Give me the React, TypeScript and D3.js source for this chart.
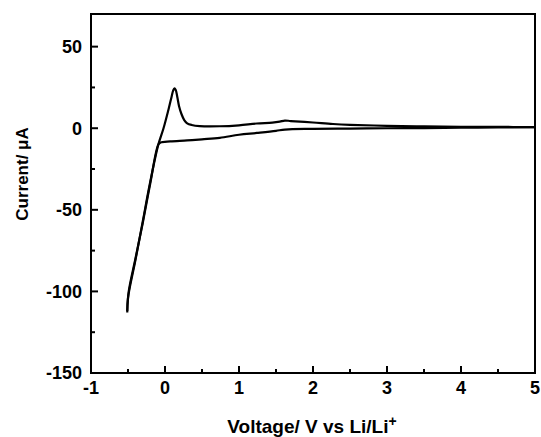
import { useEffect } from "react";
import * as d3 from "d3";

// anodic sweep: -0.5 V up to 5 V
const forwardV = [-0.51, -0.5, -0.4, -0.3, -0.2, -0.09, -0.02, 0.05, 0.09, 0.11, 0.128, 0.145, 0.165, 0.19, 0.225, 0.26, 0.3, 0.36, 0.47, 0.74, 1.0, 1.24, 1.45, 1.55, 1.62, 1.7, 2.0, 2.27, 2.5, 3.0, 3.5, 4.0, 4.5, 5.0];
const forwardI = [-113, -104, -81, -57, -33, -10, 0, 12, 19.5, 23, 24.5, 23.5, 19.5, 13.5, 8.4, 5, 3, 2, 1.3, 1.2, 1.8, 2.9, 3.4, 4.0, 4.7, 4.4, 3.5, 2.6, 2.1, 1.5, 1.1, 0.9, 0.8, 0.7];

// cathodic sweep: 5 V back down to -0.5 V
const reverseV = [5.0, 4.5, 4.0, 3.5, 3.0, 2.5, 2.0, 1.62, 1.5, 1.24, 1.0, 0.74, 0.5, 0.3, 0.07, -0.06, -0.09, -0.2, -0.3, -0.4, -0.49, -0.51];
const reverseI = [0.6, 0.5, 0.3, 0.1, 0, -0.2, -0.4, -0.8, -1.6, -2.9, -4, -5.9, -6.8, -7.5, -8.1, -8.8, -10, -34, -58, -80, -100, -112];

const xTicks = [-1, 0, 1, 2, 3, 4, 5];
const yTicks = [-150, -100, -50, 0, 50];

export default function App() {
  useEffect(() => {
    document.body.style.margin = "0";
  }, []);

  const width = 541;
  const height = 437;
  const margin = { top: 14, right: 6, bottom: 64, left: 91 };

  const x = d3.scaleLinear().domain([-1, 5]).range([margin.left, width - margin.right]);
  const y = d3.scaleLinear().domain([-150, 70]).range([height - margin.bottom, margin.top]);

  const line = d3
    .line<[number, number]>()
    .x((d) => x(d[0]))
    .y((d) => y(d[1]))
    .curve(d3.curveCatmullRom.alpha(0.5));

  const fwd = forwardV.map((v, i) => [v, forwardI[i]] as [number, number]);
  const rev = reverseV.map((v, i) => [v, reverseI[i]] as [number, number]);

  const x0 = x.range()[0];
  const x1 = x.range()[1];
  const y0 = y.range()[0];
  const y1 = y.range()[1];

  const xMinor = d3.range(-0.5, 5, 1);
  const yMinor = d3.range(-125, 70, 50);

  const font = "'Liberation Sans', Arial, sans-serif";

  return (
    <svg width={width} height={height} style={{ display: "block", background: "#fff" }}>
      <path d={line(fwd) ?? ""} fill="none" stroke="#000" strokeWidth={2.2} />
      <path d={line(rev) ?? ""} fill="none" stroke="#000" strokeWidth={2.2} />

      <rect x={x0} y={y1} width={x1 - x0} height={y0 - y1} fill="none" stroke="#000" strokeWidth={2} />

      {xTicks.map((t) => (
        <g key={"xt" + t}>
          <line x1={x(t)} x2={x(t)} y1={y0} y2={y0 - 7} stroke="#000" strokeWidth={2} />
          <text x={x(t)} y={394} textAnchor="middle" fontFamily={font} fontWeight="bold" fontSize={18}>
            {t}
          </text>
        </g>
      ))}
      {xMinor.map((t) => (
        <line key={"xm" + t} x1={x(t)} x2={x(t)} y1={y0} y2={y0 - 4} stroke="#000" strokeWidth={2} />
      ))}

      {yTicks.map((t) => (
        <g key={"yt" + t}>
          <line x1={x0} x2={x0 + 7} y1={y(t)} y2={y(t)} stroke="#000" strokeWidth={2} />
          <text x={82} y={y(t)} dy="0.35em" textAnchor="end" fontFamily={font} fontWeight="bold" fontSize={18}>
            {t}
          </text>
        </g>
      ))}
      {yMinor.map((t) => (
        <line key={"ym" + t} x1={x0} x2={x0 + 4} y1={y(t)} y2={y(t)} stroke="#000" strokeWidth={2} />
      ))}

      <text x={312} y={433} textAnchor="middle" fontFamily={font} fontWeight="bold" fontSize={19}>
        Voltage/ V vs Li/Li
        <tspan dy={-7} fontSize={14}>+</tspan>
      </text>
      <text
        transform={`translate(28,174) rotate(-90)`}
        textAnchor="middle"
        fontFamily={font}
        fontWeight="bold"
        fontSize={17}
      >
        Current/ μA
      </text>
    </svg>
  );
}
